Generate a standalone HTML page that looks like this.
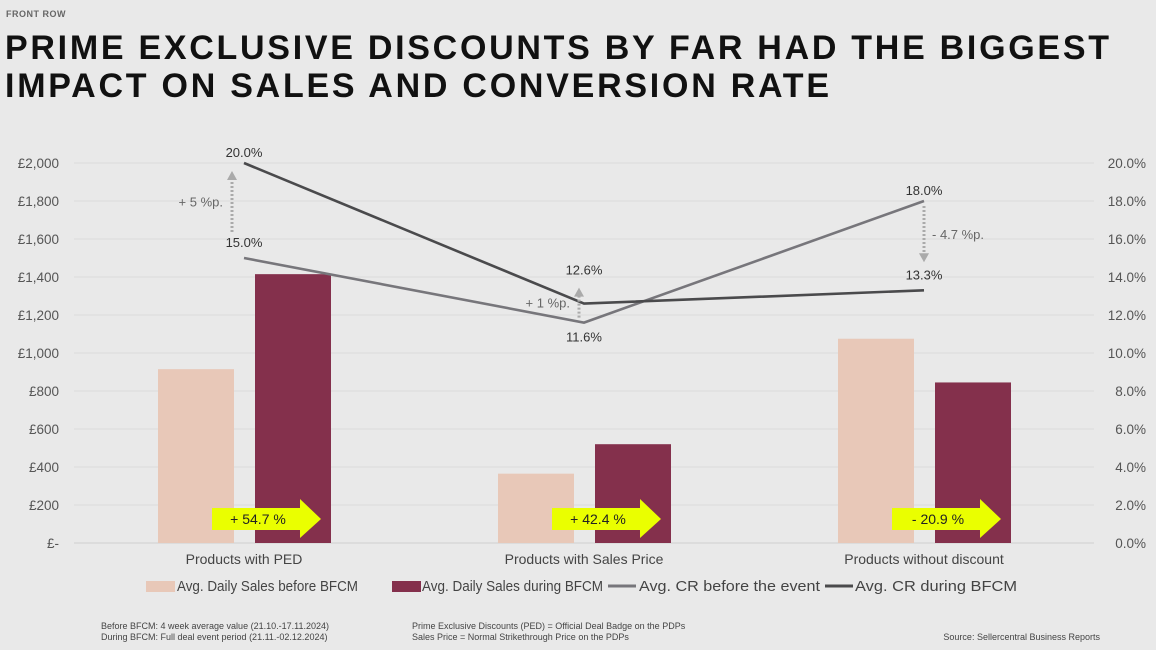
<!DOCTYPE html>
<html><head><meta charset="utf-8"><style>
body{margin:0;background:#e9e9e9;}
svg{display:block;font-family:"Liberation Sans",sans-serif;}
</style></head><body>
<svg id="c" width="1156" height="650" viewBox="0 0 1156 650">
<rect width="1156" height="650" fill="#e9e9e9"/>
<text x="6" y="17" font-size="9" font-weight="bold" fill="#666" letter-spacing="0.5">FRONT ROW</text>
<text x="5" y="59" font-size="34" font-weight="bold" fill="#111" textLength="1104" lengthAdjust="spacing">PRIME EXCLUSIVE DISCOUNTS BY FAR HAD THE BIGGEST</text>
<text x="5" y="97" font-size="34" font-weight="bold" fill="#111" textLength="824" lengthAdjust="spacing">IMPACT ON SALES AND CONVERSION RATE</text>
<g id="grid"></g><g id="bars"></g><g id="lines"></g><g id="ann"></g>
<g font-size="15" fill="#444">
<rect x="146" y="581" width="29" height="11" fill="#e8c8b8"/>
<text x="177" y="591" textLength="181" lengthAdjust="spacingAndGlyphs">Avg. Daily Sales before BFCM</text>
<rect x="392" y="581" width="29" height="11" fill="#84304c"/>
<text x="422" y="591" textLength="181" lengthAdjust="spacingAndGlyphs">Avg. Daily Sales during BFCM</text>
<line x1="608" y1="586" x2="636" y2="586" stroke="#77767b" stroke-width="3"/>
<text x="639" y="591" textLength="181" lengthAdjust="spacingAndGlyphs">Avg. CR before the event</text>
<line x1="825" y1="586" x2="853" y2="586" stroke="#4a4a4c" stroke-width="3"/>
<text x="855" y="591" textLength="162" lengthAdjust="spacingAndGlyphs">Avg. CR during BFCM</text>
</g>
<g font-size="9" fill="#444">
<text x="101" y="629">Before BFCM: 4 week average value (21.10.-17.11.2024)</text>
<text x="101" y="640">During BFCM: Full deal event period (21.11.-02.12.2024)</text>
<text x="412" y="629">Prime Exclusive Discounts (PED) = Official Deal Badge on the PDPs</text>
<text x="412" y="640">Sales Price = Normal Strikethrough Price on the PDPs</text>
<text x="1100" y="640" text-anchor="end">Source: Sellercentral Business Reports</text>
</g>
</svg>
<script>
const categories=["Products with PED","Products with Sales Price","Products without discount"];
const salesBefore=[915,365,1075];
const salesDuring=[1415,520,845];
const crBefore=[15.0,11.6,18.0];
const crDuring=[20.0,12.6,13.3];
const changeLabels=["+ 54.7 %","+ 42.4 %","- 20.9 %"];
const diffLabels=["+ 5 %p.","+ 1 %p.","- 4.7 %p."];
const leftTicks=["£-","£200","£400","£600","£800","£1,000","£1,200","£1,400","£1,600","£1,800","£2,000"];
const rightTicks=["0.0%","2.0%","4.0%","6.0%","8.0%","10.0%","12.0%","14.0%","16.0%","18.0%","20.0%"];
const NS="http://www.w3.org/2000/svg";
const X0=74,X1=1094,Y0=543,Y1=163;
const yL=v=>Y0-(v/2000)*(Y0-Y1);
const yR=v=>Y0-(v/20)*(Y0-Y1);
const cx=i=>X0+(i+0.5)*(X1-X0)/categories.length;
function mk(p,t,a){const e=document.createElementNS(NS,t);for(const k in a)e.setAttribute(k,a[k]);p.appendChild(e);return e;}
const G=document.getElementById('grid'),B=document.getElementById('bars'),L=document.getElementById('lines'),A=document.getElementById('ann');
leftTicks.forEach((t,i)=>{const y=Y0-i*(Y0-Y1)/(leftTicks.length-1);
 const g=mk(G,'line',{x1:X0,x2:X1,y1:y,y2:y,stroke:i==0?'#cfcfcf':'#dcdcdc','stroke-width':1});
 
 
 const tl=mk(G,'text',{x:59,y:y+5,'text-anchor':'end','font-size':13.5,fill:'#555'});tl.textContent=t;
 
 
 const tr=mk(G,'text',{x:1146,y:y+5,'text-anchor':'end','font-size':13.5,fill:'#555'});tr.textContent=rightTicks[i];
 
 
});
categories.forEach((c,i)=>{const x=cx(i);
 const b1=mk(B,'rect',{x:x-86,y:yL(salesBefore[i]),width:76,height:Y0-yL(salesBefore[i]),fill:'#e8c8b8'});
 
 
 const b2=mk(B,'rect',{x:x+11,y:yL(salesDuring[i]),width:76,height:Y0-yL(salesDuring[i]),fill:'#84304c'});
 
 
 const t=mk(B,'text',{x:x,y:564,'text-anchor':'middle','font-size':14,fill:'#444'});t.textContent=c;
 
 
 const ar=mk(A,'polygon',{points:`${x-32},${508} ${x+56},508 ${x+56},499 ${x+77},519 ${x+56},538 ${x+56},530 ${x-32},530`,fill:'#eaff00'});
 
 
 const at=mk(A,'text',{x:x+14,y:524,'text-anchor':'middle','font-size':14,fill:'#222'});at.textContent=changeLabels[i];
 
 
});
function line(vals,col,name){const p=mk(L,'polyline',{points:vals.map((v,i)=>cx(i)+','+yR(v)).join(' '),fill:'none',stroke:col,'stroke-width':2.6});
 
 }
line(crBefore,'#77767b','line-cr-before');
line(crDuring,'#4a4a4c','line-cr-during');
function lab(x,y,t,name){const e=mk(A,'text',{x:x,y:y,'text-anchor':'middle','font-size':13,fill:'#333'});e.textContent=t;
 
 }
categories.forEach((c,i)=>{const x=cx(i);
 const top=Math.max(crBefore[i],crDuring[i]),bot=Math.min(crBefore[i],crDuring[i]);
 const yt=yR(top),yb=yR(bot);
 lab(x,i==1?yt-29:yt-6,top.toFixed(1)+'%','value-label-top');
 const lowBelow=(i==1);
 const ylab=lowBelow?yb+19:yb-11;
 lab(x,ylab,bot.toFixed(1)+'%','value-label-bottom');
 const ax=i==0?x-12:(i==1?x-5:x);
 const y1=yR(crBefore[i]),y2=yR(crDuring[i]);
 const dir=Math.sign(y2-y1);
 let a0,a1;
 if(i==0){a0=yb-26;a1=yt+8;}
 else if(i==1){a0=yb-5;a1=yt-16;}
 else {a0=yt+5;a1=yb-28;}
 const d=mk(A,'line',{x1:ax,x2:ax,y1:a0,y2:a1-dir*8,stroke:'#aaa','stroke-width':3,'stroke-dasharray':'2 2'});
 
 
 const h=mk(A,'polygon',{points:`${ax-5},${a1-dir*9} ${ax+5},${a1-dir*9} ${ax},${a1}`,fill:'#aaa'});
 
 
 const dl=mk(A,'text',{x:i==2?ax+8:ax-9,y:i==1?yt+4:(a0+a1)/2+5,'text-anchor':i==2?'start':'end','font-size':13,fill:'#666'});dl.textContent=diffLabels[i];
 
 
});
</script>
</body></html>
